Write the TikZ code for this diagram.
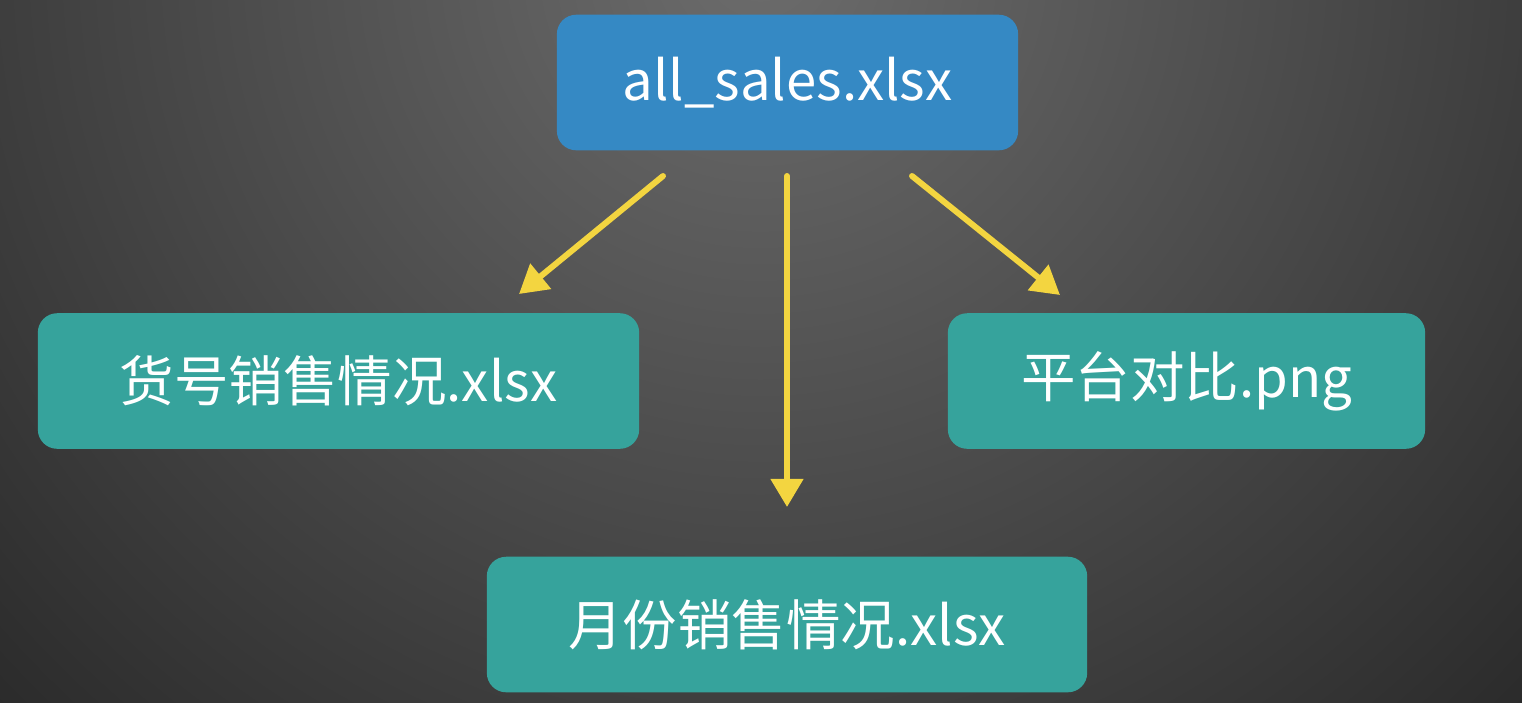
\documentclass[tikz,border=0pt]{standalone}
\usepackage{fontspec}
\setmainfont{Noto Sans CJK SC}
\usetikzlibrary{arrows.meta}
\definecolor{bgin}{HTML}{6C6C6C}
\definecolor{bgout}{HTML}{262626}
\definecolor{fileblue}{HTML}{3589C4}
\definecolor{fileteal}{HTML}{36A39C}
\definecolor{arrowyellow}{HTML}{F3D540}
\begin{document}
\begin{tikzpicture}[x=0.01cm,y=-0.01cm,
	filebox/.style={shape=rectangle, rounded corners=5.5pt, text=white, inner sep=0pt,
		font=\fontsize{15.5}{18}\selectfont, minimum height=1.355cm},
	arrowline/.style={-{Triangle[width=9pt,length=8pt]}, line width=1.7pt, line cap=round, arrowyellow},
	]
	% background
	\useasboundingbox (0,0) rectangle (1522,702);
	\clip (0,0) rectangle (1522,702);
	\shade[inner color=bgin, outer color=bgout] (760,-40) circle (1150);
	
	\node[filebox, fill=fileblue, minimum width=4.61cm] (sales) at (787.5,82.5) {all\_sales.xlsx};
	\node[filebox, fill=fileteal, minimum width=6.01cm] (item) at (338.5,381) {货号销售情况.xlsx};
	\node[filebox, fill=fileteal, minimum width=4.77cm] (platform) at (1186.5,381) {平台对比.png};
	\node[filebox, fill=fileteal, minimum width=6.00cm] (month) at (787,624.5) {月份销售情况.xlsx};
	
	\coordinate (itemS) at (663,176);
	\coordinate (itemE) at (519,294);
	\coordinate (monthS) at (787,176);
	\coordinate (monthE) at (787,507);
	\coordinate (platS) at (912,176);
	\coordinate (platE) at (1060,295);
	
	\path [arrowline] (itemS) edge (itemE);
	\path [arrowline] (monthS) edge (monthE);
	\path [arrowline] (platS) edge (platE);
\end{tikzpicture}
\end{document}
